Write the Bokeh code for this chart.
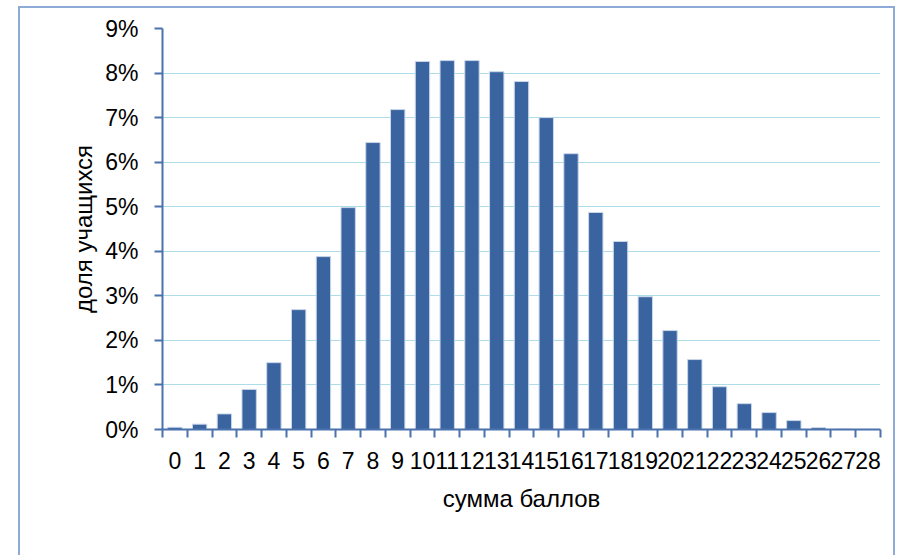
from bokeh.plotting import figure
from bokeh.models import FixedTicker, NumeralTickFormatter, ColumnDataSource
from bokeh.embed import file_html
from bokeh.resources import INLINE

scores = list(range(29))
shares = [0.05, 0.12, 0.35, 0.90, 1.50, 2.69, 3.88, 4.98, 6.44, 7.18,
          8.26, 8.28, 8.28, 8.03, 7.81, 7.00, 6.19, 4.87, 4.22, 2.98,
          2.22, 1.57, 0.96, 0.58, 0.38, 0.20, 0.04, 0.01, 0.00]
y_ticks = [0, 1, 2, 3, 4, 5, 6, 7, 8, 9]
x_label = "сумма баллов"
y_label = "доля учащихся"

FONT = "Liberation Sans"
AXIS_COLOR = "#4a72ad"
BORDER = "#8eaad6"

src = ColumnDataSource(dict(x=scores, y=[s / 100 for s in shares]))

p = figure(width=877, height=549, output_backend="svg", toolbar_location=None,
           x_range=(-0.5, 28.5), y_range=(0, 0.09),
           min_border_left=144, min_border_right=15, min_border_top=22,
           min_border_bottom=126)
p.outline_line_color = None
p.background_fill_color = None
p.border_fill_color = None
p.styles = {
    "transform": "translate(18px, 6px)",
    "box-shadow": f"inset 2px 2px 0 0 {BORDER}, inset -2px 0 0 0 {BORDER}",
}

p.vbar(x="x", top="y", width=0.58, source=src, fill_color="#3a64a0",
       line_color="#c9d6ea", line_width=1)

# x axis
p.xaxis.ticker = FixedTicker(ticks=scores, minor_ticks=[i - 0.5 for i in range(30)])
p.xaxis.major_tick_line_color = None
p.xaxis.minor_tick_line_color = AXIS_COLOR
p.xaxis.minor_tick_line_width = 2
p.xaxis.minor_tick_out = 8
p.xaxis.minor_tick_in = 0
p.xaxis.major_label_standoff = 14
p.xaxis.axis_label = x_label
p.xaxis.axis_label_standoff = 13

# y axis
p.yaxis.ticker = FixedTicker(ticks=[t / 100 for t in y_ticks], minor_ticks=[])
p.yaxis.formatter = NumeralTickFormatter(format="0%")
p.yaxis.major_tick_out = 8
p.yaxis.major_tick_in = 0
p.yaxis.major_tick_line_color = AXIS_COLOR
p.yaxis.major_tick_line_width = 2
p.yaxis.major_label_standoff = 16
p.yaxis.axis_label = y_label
p.yaxis.axis_label_standoff = 5

for ax in (p.xaxis, p.yaxis):
    ax.axis_line_color = AXIS_COLOR
    ax.axis_line_width = 2
    ax.major_label_text_font = FONT
    ax.major_label_text_font_size = "23px"
    ax.major_label_text_color = "black"
    ax.axis_label_text_font = FONT
    ax.axis_label_text_font_size = "24px"
    ax.axis_label_text_font_style = "normal"
    ax.axis_label_text_color = "black"

p.xgrid.grid_line_color = None
p.ygrid.ticker = FixedTicker(ticks=[t / 100 for t in y_ticks[1:]])
p.ygrid.grid_line_color = "#5cbbd4"
p.ygrid.grid_line_dash = "1 1"
p.ygrid.grid_line_width = 1

open("out.html", "w").write(file_html(p, INLINE))
